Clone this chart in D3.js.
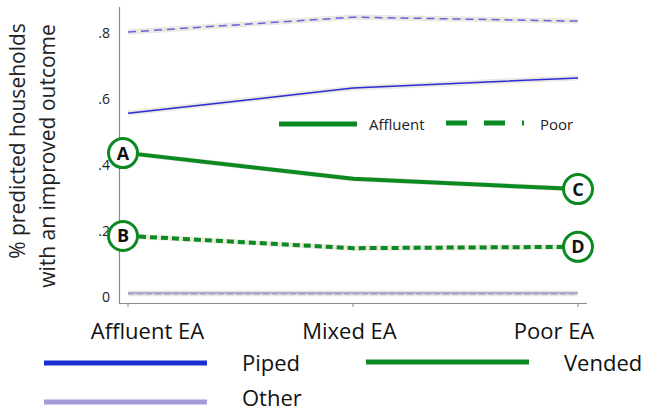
<!DOCTYPE html>
<html>
<head>
<meta charset="utf-8">
<script src="https://cdn.jsdelivr.net/npm/d3@7"></script>
<style>
  html, body { margin: 0; padding: 0; background: #fff; }
  svg { display: block; font-family: "Open Sans", "Lato", sans-serif; }
</style>
</head>
<body>
<svg id="chart" width="650" height="413"></svg>
<script>
// Area-type categories along the x axis
const categories = ["Affluent EA", "Mixed EA", "Poor EA"];
const yTicks = [0, 0.2, 0.4, 0.6, 0.8];
const yTickLabels = ["0", ".2", ".4", ".6", ".8"];

// Predicted share of households with an improved outcome
const pipedAffluent = [0.557, 0.633, 0.664];
const pipedPoor     = [0.803, 0.848, 0.836];
const vendedAffluent = [0.436, 0.358, 0.327];
const vendedPoor     = [0.185, 0.148, 0.152];
const otherAffluent  = [0.012, 0.012, 0.012];
const otherPoor      = [0.010, 0.010, 0.010];

// Half-width of the confidence band around each line
const bandHalf = 0.008;

// Callout letters: series and category index
const callouts = [
  { letter: "A", values: vendedAffluent, i: 0 },
  { letter: "B", values: vendedPoor, i: 0 },
  { letter: "C", values: vendedAffluent, i: 2 },
  { letter: "D", values: vendedPoor, i: 2 }
];

const colors = {
  piped: "#2b2bd6",
  pipedDash: "#6464e0",
  vended: "#0b8a22",
  other: "#a49ad6",
  band: "#e6e2d8"
};

const svg = d3.select("#chart");

const x = d3.scalePoint().domain(categories).range([128, 578]);
const y = d3.scaleLinear().domain([0, 0.8]).range([297, 33]);

// Axes
svg.append("line")
  .attr("x1", 119.5).attr("x2", 119.5)
  .attr("y1", 7).attr("y2", 304)
  .attr("stroke", "#8a8a8a").attr("stroke-width", 1.2);
svg.append("line")
  .attr("x1", 119).attr("x2", 587)
  .attr("y1", 303.5).attr("y2", 303.5)
  .attr("stroke", "#8a8a8a").attr("stroke-width", 1.2);

// x tick marks
svg.selectAll(".xtick").data(categories).enter().append("line")
  .attr("x1", d => x(d)).attr("x2", d => x(d))
  .attr("y1", 303.5).attr("y2", 307)
  .attr("stroke", "#8a8a8a").attr("stroke-width", 1);

// y tick labels
svg.selectAll(".ylab").data(yTicks).enter().append("text")
  .attr("x", 110).attr("y", d => y(d))
  .attr("dy", "0.35em")
  .attr("text-anchor", "end")
  .attr("font-size", 14).attr("fill", "#222")
  .text((d, i) => yTickLabels[i]);

// x category labels
const xLabelPos = [147.5, 349.5, 554];
svg.selectAll(".xlab").data(categories).enter().append("text")
  .attr("x", (d, i) => xLabelPos[i]).attr("y", 339)
  .attr("text-anchor", "middle")
  .attr("font-size", 22).attr("fill", "#111")
  .text(d => d);

// y axis title (two lines, rotated)
svg.append("text")
  .attr("transform", "translate(25,141) rotate(-90)")
  .attr("text-anchor", "middle")
  .attr("font-size", 21).attr("fill", "#222")
  .text("% predicted households");
svg.append("text")
  .attr("transform", "translate(55,156) rotate(-90)")
  .attr("text-anchor", "middle")
  .attr("font-size", 21).attr("fill", "#222")
  .text("with an improved outcome");

// Series
const series = [
  { values: otherAffluent, color: colors.other, width: 1.5, dash: null },
  { values: otherPoor, color: colors.other, width: 1.5, dash: "6,3" },
  { values: pipedAffluent, color: colors.piped, width: 1.5, dash: null },
  { values: pipedPoor, color: colors.pipedDash, width: 1.5, dash: "8,5" },
  { values: vendedAffluent, color: colors.vended, width: 4, dash: null },
  { values: vendedPoor, color: colors.vended, width: 4, dash: "7,4" }
];

const band = d3.area()
  .x((d, i) => x(categories[i]))
  .y0(d => y(d - bandHalf))
  .y1(d => y(d + bandHalf));
const line = d3.line()
  .x((d, i) => x(categories[i]))
  .y(d => y(d));

svg.selectAll(".band").data(series).enter().append("path")
  .attr("d", d => band(d.values))
  .attr("fill", colors.band).attr("opacity", 0.8);

svg.selectAll(".series").data(series).enter().append("path")
  .attr("d", d => line(d.values))
  .attr("fill", "none")
  .attr("stroke", d => d.color)
  .attr("stroke-width", d => d.width)
  .attr("stroke-dasharray", d => d.dash);

// Callout circles
const co = svg.selectAll(".callout").data(callouts).enter().append("g")
  .attr("transform", d => `translate(${x(categories[d.i]) + (d.i === 0 ? -5 : 0)},${y(d.values[d.i])})`);
co.append("circle").attr("r", 14.5)
  .attr("fill", "#fff").attr("stroke", colors.vended).attr("stroke-width", 3);
co.append("text").attr("text-anchor", "middle").attr("dy", "0.36em")
  .attr("font-size", 18).attr("font-weight", "bold").attr("fill", "#111")
  .text(d => d.letter);

// Inner legend: Affluent / Poor line styles
svg.append("line").attr("x1", 279).attr("x2", 357).attr("y1", 124).attr("y2", 124)
  .attr("stroke", colors.vended).attr("stroke-width", 5);
svg.append("text").attr("x", 369).attr("y", 125).attr("dy", "0.35em")
  .attr("font-size", 15).attr("fill", "#222").text("Affluent");
svg.append("line").attr("x1", 446).attr("x2", 524).attr("y1", 123).attr("y2", 123)
  .attr("stroke", colors.vended).attr("stroke-width", 5)
  .attr("stroke-dasharray", "21,17");
svg.append("text").attr("x", 540).attr("y", 125).attr("dy", "0.35em")
  .attr("font-size", 15).attr("fill", "#222").text("Poor");

// Bottom legend: water sources
const legendItems = [
  { label: "Piped", color: "#1a2ed0", x: 44, y: 363, ty: 371 },
  { label: "Vended", color: colors.vended, x: 366, y: 362, ty: 371 },
  { label: "Other", color: colors.other, x: 44, y: 402, ty: 406 }
];
const lg = svg.selectAll(".lg").data(legendItems).enter().append("g");
lg.append("line")
  .attr("x1", d => d.x).attr("x2", d => d.x + 163)
  .attr("y1", d => d.y).attr("y2", d => d.y)
  .attr("stroke", d => d.color).attr("stroke-width", 5);
lg.append("text")
  .attr("x", d => d.x + 198).attr("y", d => d.ty)
  .attr("font-size", 22).attr("fill", "#111")
  .text(d => d.label);
</script>
</body>
</html>
